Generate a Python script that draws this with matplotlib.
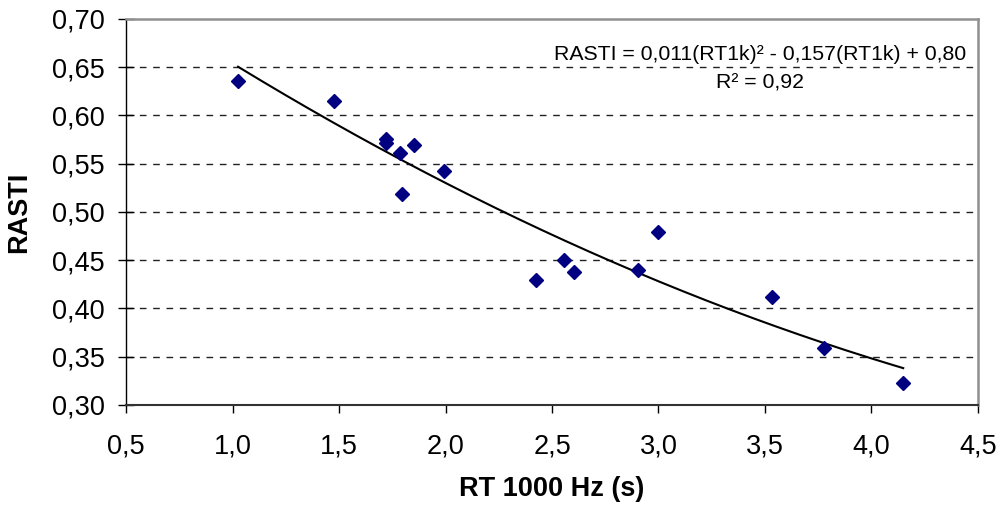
import numpy as np
import matplotlib
matplotlib.use("Agg")
import matplotlib.pyplot as plt
from matplotlib.ticker import FuncFormatter

plt.rcParams['font.family'] = ['Liberation Sans', 'DejaVu Sans']

# reverberation time at 1 kHz (s) and measured RASTI
rt1k = [1.026, 1.477, 1.719, 1.719, 1.786, 1.852, 1.797, 1.992,
        2.424, 2.555, 2.602, 2.903, 2.996, 3.531, 3.775, 4.149]
rasti = [0.636, 0.615, 0.576, 0.571, 0.561, 0.569, 0.519, 0.542,
         0.429, 0.450, 0.438, 0.440, 0.479, 0.412, 0.359, 0.323]

# quadratic trendline coefficients as printed on the chart
coef = [0.011, -0.157, 0.80]
r2 = 0.92

xticks = [0.5, 1.0, 1.5, 2.0, 2.5, 3.0, 3.5, 4.0, 4.5]
yticks = [0.30, 0.35, 0.40, 0.45, 0.50, 0.55, 0.60, 0.65, 0.70]

fig = plt.figure(figsize=(10.01, 5.08), dpi=100)
ax = fig.add_axes([0.1259, 0.2033, 0.8511, 0.7593])

# dashed horizontal gridlines
for yv in yticks[1:-1]:
    ax.axhline(yv, color='#222222', lw=1.0, dashes=(4.8, 4.8), zorder=1)

xt = np.linspace(min(rt1k), max(rt1k), 200)
ax.plot(xt, np.polyval(coef, xt), color='black', lw=1.5, zorder=2)

ax.plot(rt1k, rasti, ls='none', marker='D', ms=6.8, color='#000080',
        markeredgecolor='#000080', zorder=3)

ax.set_xlim(0.5, 4.5)
ax.set_ylim(0.30, 0.70)
ax.set_xticks(xticks)
ax.set_yticks(yticks)
ax.xaxis.set_major_formatter(FuncFormatter(lambda v, p: f"{v:.1f}".replace('.', ',')))
ax.yaxis.set_major_formatter(FuncFormatter(lambda v, p: f"{v:.2f}".replace('.', ',')))

ax.tick_params(axis='x', direction='out', length=6, width=1, pad=15,
               labelsize=19.5, colors='black')
ax.tick_params(axis='y', direction='inout', length=11, width=1, pad=10,
               labelsize=19.5, colors='black')

for side in ('top', 'right'):
    ax.spines[side].set_color('#909090')
    ax.spines[side].set_linewidth(1.8)
ax.spines['left'].set_color('black')
ax.spines['left'].set_linewidth(1.0)
ax.spines['bottom'].set_color('#333333')
ax.spines['bottom'].set_linewidth(1.5)

ax.set_xlabel("RT 1000 Hz (s)", fontsize=19.5, fontweight='bold', va='center')
ax.xaxis.set_label_coords(0.5, -0.219)
ax.set_ylabel("RASTI", fontsize=19.5, fontweight='bold', va='center')
ax.yaxis.set_label_coords(-0.125, 0.5)

eq = f"RASTI = {coef[0]:.3f}(RT1k)\u00b2 - {abs(coef[1]):.3f}(RT1k) + {coef[2]:.2f}".replace('.', ',')
ax.text(0.744, 0.907, eq, transform=ax.transAxes, ha='center', va='center',
        fontsize=15.3, zorder=4)
ax.text(0.744, 0.834, f"R\u00b2 = {r2:.2f}".replace('.', ','), transform=ax.transAxes,
        ha='center', va='center', fontsize=15.3, zorder=4)

fig.savefig("out.png", dpi=100)
